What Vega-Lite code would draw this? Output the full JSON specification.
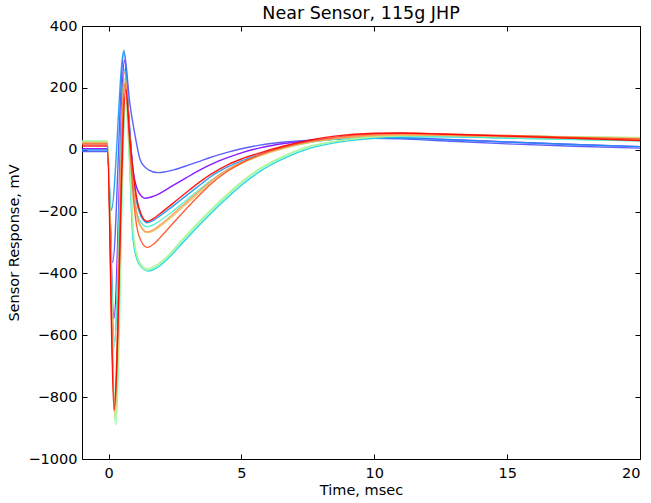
{
"$schema":"https://vega.github.io/schema/vega-lite/v6.json",
"width":558,"height":433,
"autosize":{"type":"none"},
"padding":{"left":82,"top":26,"right":11,"bottom":44},
"background":"white",
"title":{"text":"Near Sensor, 115g JHP","font":"DejaVu Sans","fontSize":17.5,"fontWeight":"normal","color":"black","offset":-4},
"config":{"view":{"stroke":"black","strokeWidth":1},"font":"DejaVu Sans"},
"data":{"values":[
{"s":"s00","t":-1,"v":3},{"s":"s00","t":-0.05,"v":3},{"s":"s00","t":0.2,"v":-545},{"s":"s00","t":0.6,"v":290},{"s":"s00","t":0.75,"v":120},{"s":"s00","t":0.92,"v":-65},{"s":"s00","t":1.15,"v":-140},{"s":"s00","t":1.4,"v":-157},{"s":"s00","t":1.7,"v":-150},{"s":"s00","t":1.93,"v":-141},{"s":"s00","t":2.4,"v":-117},{"s":"s00","t":2.9,"v":-92},{"s":"s00","t":3.5,"v":-63},{"s":"s00","t":3.8,"v":-50},{"s":"s00","t":4.5,"v":-25},{"s":"s00","t":5,"v":-10},{"s":"s00","t":5.7,"v":6},{"s":"s00","t":6.6,"v":20},{"s":"s00","t":7.6,"v":30},{"s":"s00","t":8.5,"v":35},{"s":"s00","t":10,"v":40},{"s":"s00","t":11,"v":39},{"s":"s00","t":12.5,"v":34},{"s":"s00","t":15,"v":25},{"s":"s00","t":17.5,"v":17},{"s":"s00","t":20,"v":10},
{"s":"s01","t":-1,"v":-6},{"s":"s01","t":-0.05,"v":-6},{"s":"s01","t":0.15,"v":-365},{"s":"s01","t":0.58,"v":315},{"s":"s01","t":0.8,"v":150},{"s":"s01","t":1.0,"v":45},{"s":"s01","t":1.2,"v":-35},{"s":"s01","t":1.5,"v":-65},{"s":"s01","t":1.85,"v":-74},{"s":"s01","t":2.1,"v":-72},{"s":"s01","t":2.5,"v":-64},{"s":"s01","t":3.0,"v":-50},{"s":"s01","t":3.5,"v":-35},{"s":"s01","t":3.8,"v":-26},{"s":"s01","t":4.5,"v":-8},{"s":"s01","t":5,"v":3},{"s":"s01","t":5.7,"v":15},{"s":"s01","t":6.6,"v":25},{"s":"s01","t":7.6,"v":31},{"s":"s01","t":8.5,"v":34},{"s":"s01","t":10,"v":37},{"s":"s01","t":11,"v":35},{"s":"s01","t":12.5,"v":29},{"s":"s01","t":15,"v":19},{"s":"s01","t":17.5,"v":11},{"s":"s01","t":20,"v":5},
{"s":"s02","t":-1,"v":-1},{"s":"s02","t":-0.05,"v":-1},{"s":"s02","t":0.1,"v":-196},{"s":"s02","t":0.58,"v":322},{"s":"s02","t":0.75,"v":120},{"s":"s02","t":0.92,"v":-80},{"s":"s02","t":1.15,"v":-200},{"s":"s02","t":1.45,"v":-236},{"s":"s02","t":1.7,"v":-228},{"s":"s02","t":1.93,"v":-214},{"s":"s02","t":2.4,"v":-184},{"s":"s02","t":2.9,"v":-150},{"s":"s02","t":3.5,"v":-110},{"s":"s02","t":3.8,"v":-90},{"s":"s02","t":4.5,"v":-55},{"s":"s02","t":5,"v":-36},{"s":"s02","t":5.7,"v":-15},{"s":"s02","t":6.6,"v":7},{"s":"s02","t":7.6,"v":25},{"s":"s02","t":8.5,"v":34},{"s":"s02","t":10,"v":40},{"s":"s02","t":11,"v":38},{"s":"s02","t":12.5,"v":33},{"s":"s02","t":15,"v":25},{"s":"s02","t":17.5,"v":17},{"s":"s02","t":20,"v":10},
{"s":"s03","t":-1,"v":20},{"s":"s03","t":-0.05,"v":20},{"s":"s03","t":0.22,"v":-620},{"s":"s03","t":0.6,"v":260},{"s":"s03","t":0.75,"v":60},{"s":"s03","t":0.92,"v":-290},{"s":"s03","t":1.15,"v":-370},{"s":"s03","t":1.5,"v":-392},{"s":"s03","t":1.8,"v":-383},{"s":"s03","t":2.2,"v":-355},{"s":"s03","t":2.8,"v":-300},{"s":"s03","t":3.4,"v":-245},{"s":"s03","t":3.8,"v":-210},{"s":"s03","t":4.5,"v":-153},{"s":"s03","t":5,"v":-115},{"s":"s03","t":5.7,"v":-70},{"s":"s03","t":6.6,"v":-28},{"s":"s03","t":7.6,"v":5},{"s":"s03","t":8.5,"v":22},{"s":"s03","t":10,"v":37},{"s":"s03","t":11,"v":41},{"s":"s03","t":12.5,"v":42},{"s":"s03","t":15,"v":38},{"s":"s03","t":17.5,"v":34},{"s":"s03","t":20,"v":30},
{"s":"s04","t":-1,"v":25},{"s":"s04","t":-0.05,"v":25},{"s":"s04","t":0.2,"v":-645},{"s":"s04","t":0.6,"v":230},{"s":"s04","t":0.8,"v":20},{"s":"s04","t":0.95,"v":-150},{"s":"s04","t":1.15,"v":-225},{"s":"s04","t":1.45,"v":-249},{"s":"s04","t":1.7,"v":-242},{"s":"s04","t":1.93,"v":-230},{"s":"s04","t":2.4,"v":-200},{"s":"s04","t":2.9,"v":-165},{"s":"s04","t":3.5,"v":-123},{"s":"s04","t":3.8,"v":-103},{"s":"s04","t":4.5,"v":-64},{"s":"s04","t":5,"v":-42},{"s":"s04","t":5.7,"v":-18},{"s":"s04","t":6.6,"v":5},{"s":"s04","t":7.6,"v":24},{"s":"s04","t":8.5,"v":34},{"s":"s04","t":10,"v":43},{"s":"s04","t":11,"v":45},{"s":"s04","t":12.5,"v":43},{"s":"s04","t":15,"v":38},{"s":"s04","t":17.5,"v":33},{"s":"s04","t":20,"v":28},
{"s":"s05","t":-1,"v":28},{"s":"s05","t":-0.05,"v":28},{"s":"s05","t":0.27,"v":-890},{"s":"s05","t":0.65,"v":150},{"s":"s05","t":0.8,"v":-60},{"s":"s05","t":0.95,"v":-290},{"s":"s05","t":1.15,"v":-365},{"s":"s05","t":1.45,"v":-390},{"s":"s05","t":1.8,"v":-378},{"s":"s05","t":2.2,"v":-350},{"s":"s05","t":2.8,"v":-293},{"s":"s05","t":3.4,"v":-238},{"s":"s05","t":3.8,"v":-203},{"s":"s05","t":4.5,"v":-146},{"s":"s05","t":5,"v":-108},{"s":"s05","t":5.7,"v":-63},{"s":"s05","t":6.6,"v":-22},{"s":"s05","t":7.6,"v":10},{"s":"s05","t":8.5,"v":26},{"s":"s05","t":10,"v":41},{"s":"s05","t":11,"v":45},{"s":"s05","t":12.5,"v":46},{"s":"s05","t":15,"v":44},{"s":"s05","t":17.5,"v":41},{"s":"s05","t":20,"v":38},
{"s":"s06","t":-1,"v":26},{"s":"s06","t":-0.05,"v":26},{"s":"s06","t":0.25,"v":-880},{"s":"s06","t":0.63,"v":170},{"s":"s06","t":0.8,"v":-40},{"s":"s06","t":0.95,"v":-280},{"s":"s06","t":1.15,"v":-360},{"s":"s06","t":1.45,"v":-385},{"s":"s06","t":1.8,"v":-373},{"s":"s06","t":2.2,"v":-345},{"s":"s06","t":2.8,"v":-288},{"s":"s06","t":3.4,"v":-233},{"s":"s06","t":3.8,"v":-198},{"s":"s06","t":4.5,"v":-141},{"s":"s06","t":5,"v":-104},{"s":"s06","t":5.7,"v":-60},{"s":"s06","t":6.6,"v":-20},{"s":"s06","t":7.6,"v":12},{"s":"s06","t":8.5,"v":27},{"s":"s06","t":10,"v":41},{"s":"s06","t":11,"v":46},{"s":"s06","t":12.5,"v":47},{"s":"s06","t":15,"v":45},{"s":"s06","t":17.5,"v":42},{"s":"s06","t":20,"v":40},
{"s":"s07","t":-1,"v":24},{"s":"s07","t":-0.05,"v":24},{"s":"s07","t":0.24,"v":-870},{"s":"s07","t":0.62,"v":230},{"s":"s07","t":0.8,"v":30},{"s":"s07","t":0.95,"v":-140},{"s":"s07","t":1.15,"v":-240},{"s":"s07","t":1.45,"v":-268},{"s":"s07","t":1.7,"v":-262},{"s":"s07","t":1.93,"v":-249},{"s":"s07","t":2.4,"v":-216},{"s":"s07","t":2.9,"v":-178},{"s":"s07","t":3.5,"v":-133},{"s":"s07","t":3.8,"v":-111},{"s":"s07","t":4.5,"v":-68},{"s":"s07","t":5,"v":-45},{"s":"s07","t":5.7,"v":-20},{"s":"s07","t":6.6,"v":4},{"s":"s07","t":7.6,"v":24},{"s":"s07","t":8.5,"v":35},{"s":"s07","t":10,"v":45},{"s":"s07","t":11,"v":47},{"s":"s07","t":12.5,"v":47},{"s":"s07","t":15,"v":44},{"s":"s07","t":17.5,"v":41},{"s":"s07","t":20,"v":38},
{"s":"s08","t":-1,"v":21},{"s":"s08","t":-0.05,"v":21},{"s":"s08","t":0.22,"v":-810},{"s":"s08","t":0.6,"v":252},{"s":"s08","t":0.8,"v":40},{"s":"s08","t":0.95,"v":-130},{"s":"s08","t":1.15,"v":-235},{"s":"s08","t":1.45,"v":-266},{"s":"s08","t":1.7,"v":-258},{"s":"s08","t":1.93,"v":-244},{"s":"s08","t":2.4,"v":-210},{"s":"s08","t":2.9,"v":-172},{"s":"s08","t":3.5,"v":-127},{"s":"s08","t":3.8,"v":-105},{"s":"s08","t":4.5,"v":-63},{"s":"s08","t":5,"v":-41},{"s":"s08","t":5.7,"v":-17},{"s":"s08","t":6.6,"v":7},{"s":"s08","t":7.6,"v":26},{"s":"s08","t":8.5,"v":36},{"s":"s08","t":10,"v":47},{"s":"s08","t":11,"v":49},{"s":"s08","t":12.5,"v":47},{"s":"s08","t":15,"v":42},{"s":"s08","t":17.5,"v":37},{"s":"s08","t":20,"v":32},
{"s":"s09","t":-1,"v":18},{"s":"s09","t":-0.05,"v":18},{"s":"s09","t":0.22,"v":-845},{"s":"s09","t":0.62,"v":215},{"s":"s09","t":0.8,"v":10},{"s":"s09","t":0.95,"v":-170},{"s":"s09","t":1.15,"v":-280},{"s":"s09","t":1.45,"v":-316},{"s":"s09","t":1.7,"v":-305},{"s":"s09","t":1.93,"v":-285},{"s":"s09","t":2.4,"v":-240},{"s":"s09","t":2.9,"v":-193},{"s":"s09","t":3.5,"v":-140},{"s":"s09","t":3.8,"v":-115},{"s":"s09","t":4.5,"v":-68},{"s":"s09","t":5,"v":-43},{"s":"s09","t":5.7,"v":-16},{"s":"s09","t":6.6,"v":9},{"s":"s09","t":7.6,"v":28},{"s":"s09","t":8.5,"v":40},{"s":"s09","t":10,"v":51},{"s":"s09","t":11,"v":53},{"s":"s09","t":12.5,"v":51},{"s":"s09","t":15,"v":46},{"s":"s09","t":17.5,"v":40},{"s":"s09","t":20,"v":35},
{"s":"s10","t":-1,"v":12},{"s":"s10","t":-0.05,"v":12},{"s":"s10","t":0.2,"v":-840},{"s":"s10","t":0.65,"v":195},{"s":"s10","t":0.8,"v":40},{"s":"s10","t":0.95,"v":-90},{"s":"s10","t":1.15,"v":-190},{"s":"s10","t":1.45,"v":-232},{"s":"s10","t":1.7,"v":-222},{"s":"s10","t":1.93,"v":-207},{"s":"s10","t":2.4,"v":-175},{"s":"s10","t":2.9,"v":-140},{"s":"s10","t":3.5,"v":-100},{"s":"s10","t":3.8,"v":-82},{"s":"s10","t":4.5,"v":-48},{"s":"s10","t":5,"v":-30},{"s":"s10","t":5.7,"v":-10},{"s":"s10","t":6.6,"v":12},{"s":"s10","t":7.6,"v":32},{"s":"s10","t":8.5,"v":44},{"s":"s10","t":10,"v":53},{"s":"s10","t":11,"v":54},{"s":"s10","t":12.5,"v":51},{"s":"s10","t":15,"v":44},{"s":"s10","t":17.5,"v":37},{"s":"s10","t":20,"v":30}
]},
"layer":[
{"mark":{"type":"line","interpolate":"monotone","strokeWidth":1.4,"opacity":0.9,"clip":true},
"encoding":{
"x":{"field":"t","type":"quantitative","scale":{"domain":[-1,20],"nice":false,"zero":false},
"axis":{"orient":"bottom","title":"Time, msec","values":[0,5,10,15,20],"grid":false,"domain":false,"tickSize":-5,"tickColor":"black","labelColor":"black","labelFont":"DejaVu Sans","labelFontSize":14.5,"labelPadding":12,"titleFont":"DejaVu Sans","titleFontSize":14.5,"titleFontWeight":"normal","titleColor":"black","titlePadding":4}},
"y":{"field":"v","type":"quantitative","scale":{"domain":[-1000,400],"nice":false,"zero":false},
"axis":{"orient":"left","title":"Sensor Response, mV","format":"d","values":[-1000,-800,-600,-400,-200,0,200,400],"grid":false,"domain":false,"tickSize":-5,"tickColor":"black","labelColor":"black","labelFont":"DejaVu Sans","labelFontSize":14.5,"labelPadding":10,"titleFont":"DejaVu Sans","titleFontSize":14.5,"titleFontWeight":"normal","titleColor":"black","titlePadding":6}},
"color":{"field":"s","type":"nominal","legend":null,"scale":{"domain":["s00","s01","s02","s03","s04","s05","s06","s07","s08","s09","s10"],"range":["#8000ff","#4d4ffc","#1996f3","#1acee3","#4df3ce","#80ffb4","#b3f396","#e6ce74","#ff964f","#ff4f28","#ff0000"]}}
}},
{"mark":{"type":"point","opacity":0},
"encoding":{
"x":{"field":"t","type":"quantitative","axis":{"orient":"top","title":null,"labels":false,"values":[0,5,10,15,20],"grid":false,"domain":false,"tickSize":-5,"tickColor":"black"}},
"y":{"field":"v","type":"quantitative","axis":{"orient":"right","title":null,"labels":false,"values":[-1000,-800,-600,-400,-200,0,200,400],"grid":false,"domain":false,"tickSize":-5,"tickColor":"black"}}
}}
],
"resolve":{"axis":{"x":"independent","y":"independent"}}
}
